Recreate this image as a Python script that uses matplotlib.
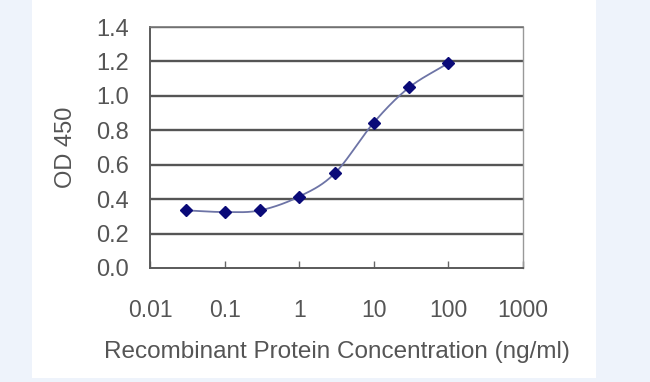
import numpy as np
import matplotlib.pyplot as plt
from matplotlib.patches import Rectangle

plt.rcParams['font.family'] = ['Liberation Sans', 'DejaVu Sans']

# data
conc = [0.03, 0.1, 0.3, 1, 3, 10, 30, 100]
od450 = [0.335, 0.325, 0.335, 0.415, 0.55, 0.845, 1.05, 1.19]
xticks = [0.01, 0.1, 1, 10, 100, 1000]
xtick_labels = ['0.01', '0.1', '1', '10', '100', '1000']
yticks = [0.0, 0.2, 0.4, 0.6, 0.8, 1.0, 1.2, 1.4]


def smooth_line(xs, ys, n=30):
    # Catmull-Rom curve through the points in log-x space (Excel-like smoothing)
    lx = np.log10(xs)
    ys = np.asarray(ys, dtype=float)
    px = np.concatenate([[2 * lx[0] - lx[1]], lx, [2 * lx[-1] - lx[-2]]])
    py = np.concatenate([[2 * ys[0] - ys[1]], ys, [2 * ys[-1] - ys[-2]]])
    out_x, out_y = [], []
    t = np.linspace(0, 1, n)
    for i in range(1, len(px) - 2):
        for p, out in ((px, out_x), (py, out_y)):
            p0, p1, p2, p3 = p[i - 1], p[i], p[i + 1], p[i + 2]
            out.extend(0.5 * (2 * p1 + (-p0 + p2) * t
                              + (2 * p0 - 5 * p1 + 4 * p2 - p3) * t ** 2
                              + (-p0 + 3 * p1 - 3 * p2 + p3) * t ** 3))
    return 10 ** np.array(out_x), np.array(out_y)


fig = plt.figure(figsize=(6.5, 3.82), dpi=100)
fig.patch.set_facecolor('#eef3fb')
panel = Rectangle((32 / 650, 4 / 382), 564 / 650, 378 / 382,
                  transform=fig.transFigure, facecolor='white',
                  edgecolor='none', zorder=-10)
fig.add_artist(panel)

ax = fig.add_axes([150 / 650, 1 - 268 / 382, 373 / 650, 241 / 382])
ax.set_zorder(1)
ax.set_facecolor('white')
ax.set_xscale('log')
ax.set_xlim(0.01, 1000)
ax.set_ylim(0, 1.4)

for v in yticks[1:]:
    ax.axhline(v, color='#555555', linewidth=1.7, zorder=1)

sx, sy = smooth_line(conc, od450)
ax.plot(sx, sy, color='#6d74a6', linewidth=1.3, zorder=2)
ax.plot(conc, od450, linestyle='none', marker='D', markersize=6.5,
        color='#0a0a78', zorder=3)

ax.set_xticks(xticks)
ax.set_xticklabels(xtick_labels)
ax.xaxis.set_minor_locator(plt.NullLocator())
ax.set_yticks(yticks)
ax.set_yticklabels([f'{v:.1f}' for v in yticks])

ax.tick_params(axis='x', direction='in', length=5, width=1, color='#666666',
               pad=22, labelsize=16.5, labelcolor='#555555')
ax.tick_params(axis='y', length=0, pad=15, labelsize=17, labelcolor='#555555')

for side in ('left', 'bottom'):
    ax.spines[side].set_color('#5a5a5a')
    ax.spines[side].set_linewidth(1.4)
ax.spines['right'].set_color('#999999')
ax.spines['right'].set_linewidth(1.0)
ax.spines['top'].set_color('#777777')
ax.spines['top'].set_linewidth(1.2)

ax.set_ylabel('OD 450', fontsize=17, color='#555555', labelpad=14)
ax.set_xlabel('Recombinant Protein Concentration (ng/ml)', fontsize=17.5,
              color='#555555', labelpad=14)

fig.savefig('out.png', dpi=100, facecolor=fig.get_facecolor())
